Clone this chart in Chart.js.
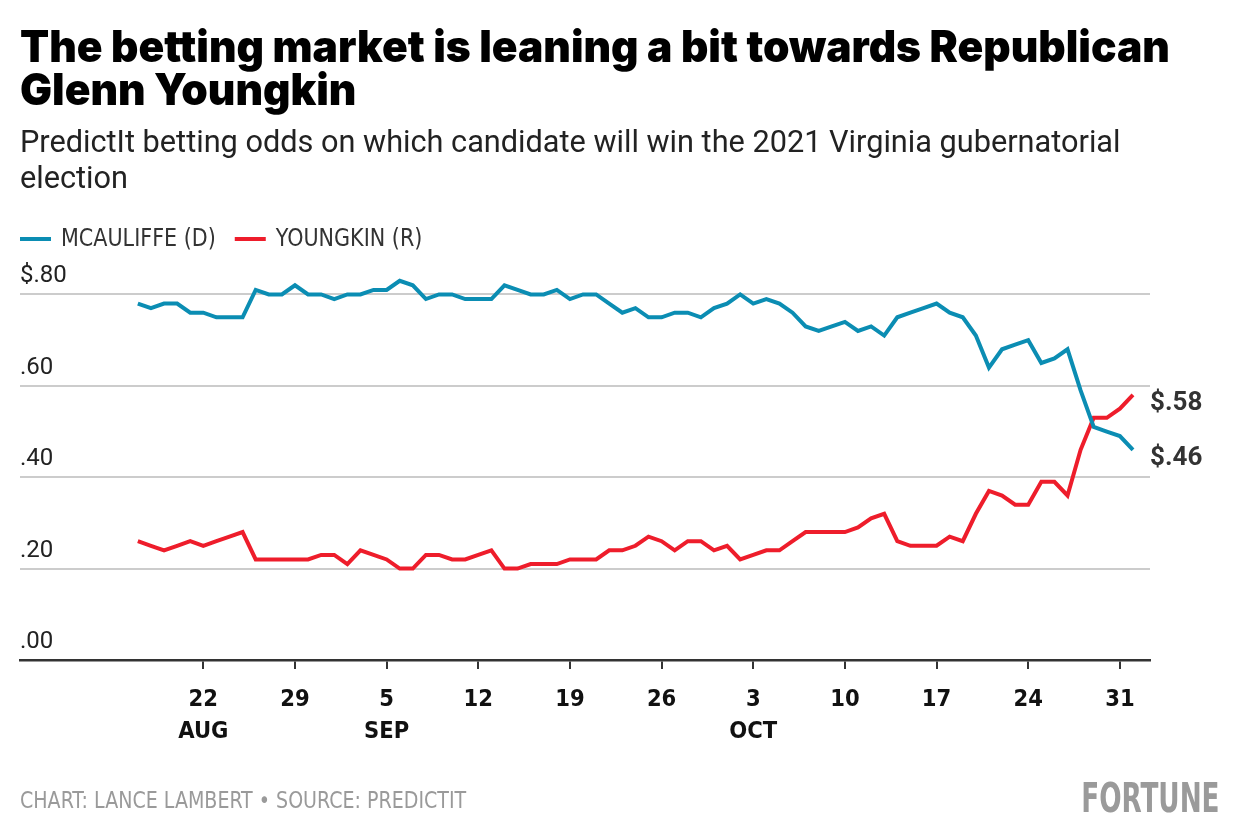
<!DOCTYPE html>
<html>
<head>
<meta charset="utf-8">
<script src="https://cdn.jsdelivr.net/npm/chart.js@4"></script>
<style>
  html, body { margin: 0; padding: 0; background: #fff; }
  #wrap { position: relative; width: 1240px; height: 840px; overflow: hidden; }
  #chart { position: absolute; left: 0; top: 0; }
  .txt { position: absolute; white-space: nowrap; z-index: 2; font-variant-ligatures: none; }
  #title { left: 20px; top: 24.5px; font: 900 44px/43px Inter, Lato, sans-serif; color: #000; transform-origin: left top; }
  #subtitle { left: 20px; top: 124px; font: 400 30.7px/36px Roboto, sans-serif; color: #222; }
  #footer { left: 20px; top: 787px; font: 400 23px/26px "Liberation Sans Narrow", "DejaVu Sans Condensed", sans-serif; color: #9a9a9a; transform: scaleX(0.92); transform-origin: left center; }
  #brand { right: 20px; top: 778px; font: 700 40px/40px "Liberation Sans Narrow", "DejaVu Sans Condensed", sans-serif; color: #9a9a9a; transform: scaleX(0.73); transform-origin: right center; }
</style>
</head>
<body>
<div id="wrap">
  <canvas id="chart" width="1240" height="840"></canvas>
  <div id="title" class="txt">The betting market is leaning a bit towards Republican<br>Glenn Youngkin</div>
  <div id="subtitle" class="txt">PredictIt betting odds on which candidate will win the 2021 Virginia gubernatorial<br>election</div>
  <div id="footer" class="txt">CHART: LANCE LAMBERT • SOURCE: PREDICTIT</div>
  <div id="brand" class="txt">FORTUNE</div>
</div>
<script>
// Daily values, Aug 17 2021 (day 0) to Nov 1 2021 (day 76)
const seriesNames = ["MCAULIFFE (D)", "YOUNGKIN (R)"];
const mcauliffe = [
  0.78, 0.77, 0.78, 0.78, 0.76, 0.76, 0.75, 0.75, 0.75, 0.81,
  0.80, 0.80, 0.82, 0.80, 0.80, 0.79, 0.80, 0.80, 0.81, 0.81,
  0.83, 0.82, 0.79, 0.80, 0.80, 0.79, 0.79, 0.79, 0.82, 0.81,
  0.80, 0.80, 0.81, 0.79, 0.80, 0.80, 0.78, 0.76, 0.77, 0.75,
  0.75, 0.76, 0.76, 0.75, 0.77, 0.78, 0.80, 0.78, 0.79, 0.78,
  0.76, 0.73, 0.72, 0.73, 0.74, 0.72, 0.73, 0.71, 0.75, 0.76,
  0.77, 0.78, 0.76, 0.75, 0.71, 0.64, 0.68, 0.69, 0.70, 0.65,
  0.66, 0.68, 0.59, 0.51, 0.50, 0.49, 0.46
];
const youngkin = [
  0.26, 0.25, 0.24, 0.25, 0.26, 0.25, 0.26, 0.27, 0.28, 0.22,
  0.22, 0.22, 0.22, 0.22, 0.23, 0.23, 0.21, 0.24, 0.23, 0.22,
  0.20, 0.20, 0.23, 0.23, 0.22, 0.22, 0.23, 0.24, 0.20, 0.20,
  0.21, 0.21, 0.21, 0.22, 0.22, 0.22, 0.24, 0.24, 0.25, 0.27,
  0.26, 0.24, 0.26, 0.26, 0.24, 0.25, 0.22, 0.23, 0.24, 0.24,
  0.26, 0.28, 0.28, 0.28, 0.28, 0.29, 0.31, 0.32, 0.26, 0.25,
  0.25, 0.25, 0.27, 0.26, 0.32, 0.37, 0.36, 0.34, 0.34, 0.39,
  0.39, 0.36, 0.46, 0.53, 0.53, 0.55, 0.58
];
// x ticks: day offsets from Aug 17
const xTickDays = [5, 12, 19, 26, 33, 40, 47, 54, 61, 68, 75];
const xTickDayLabels = ["22", "29", "5", "12", "19", "26", "3", "10", "17", "24", "31"];
const xTickMonthLabels = ["AUG", "", "SEP", "", "", "", "OCT", "", "", "", ""];
const yTickValues = [0, 0.2, 0.4, 0.6, 0.8];
const yTickLabels = [".00", ".20", ".40", ".60", "$.80"];

const COLORS = ["#0b8db3", "#ee1d2b"];
const NARROW = '"Liberation Sans Narrow", "DejaVu Sans Condensed", sans-serif';

// fit the title's first line to the reference width
(function fitTitle() {
  const t = document.getElementById('title');
  const w = t.getBoundingClientRect().width;
  const target = 1150;
  if (w > 0) t.style.transform = 'scaleX(' + (target / w).toFixed(4) + ')';
})();

const legendPlugin = {
  id: 'customLegend',
  afterDraw(chart) {
    const ctx = chart.ctx;
    ctx.save();
    ctx.font = '400 25px ' + NARROW;
    ctx.textBaseline = 'middle';
    ctx.textAlign = 'left';
    const sx = 0.92;
    let x = 20;
    const yc = 239;
    chart.data.datasets.forEach(ds => {
      ctx.fillStyle = ds.borderColor;
      ctx.fillRect(x, yc - 2, 31, 4);
      ctx.fillStyle = '#333';
      ctx.save();
      ctx.translate(x + 41, yc);
      ctx.scale(sx, 1);
      ctx.fillText(ds.label, 0, 0);
      ctx.restore();
      x += 41 + ctx.measureText(ds.label).width * sx + 19;
    });
    ctx.restore();
  }
};

const endLabelPlugin = {
  id: 'endLabels',
  afterDatasetsDraw(chart) {
    const ctx = chart.ctx;
    ctx.save();
    ctx.font = '700 26px Roboto, "Liberation Sans", sans-serif';
    ctx.fillStyle = '#333';
    ctx.textBaseline = 'middle';
    ctx.textAlign = 'left';
    chart.data.datasets.forEach((ds, i) => {
      const meta = chart.getDatasetMeta(i);
      const pt = meta.data[meta.data.length - 1];
      const v = ds.data[ds.data.length - 1].y;
      const txt = '$' + v.toFixed(2).slice(1);
      ctx.fillText(txt, chart.chartArea.right, pt.y + 9);
    });
    ctx.restore();
  }
};

new Chart(document.getElementById('chart'), {
  type: 'line',
  data: {
    datasets: [mcauliffe, youngkin].map((arr, i) => ({
      label: seriesNames[i],
      data: arr.map((v, d) => ({ x: d, y: v })),
      borderColor: COLORS[i],
      backgroundColor: COLORS[i],
      borderWidth: 4,
      pointRadius: 0,
      tension: 0,
      clip: false
    }))
  },
  options: {
    responsive: false,
    animation: false,
    layout: { padding: { top: 271.6, left: 20, right: 90, bottom: 80 } },
    plugins: { legend: { display: false }, tooltip: { enabled: false } },
    scales: {
      x: {
        type: 'linear',
        min: -9,
        max: 77.3,
        afterBuildTicks(scale) { scale.ticks = xTickDays.map(v => ({ value: v })); },
        afterFit(scale) { scale.height = 100; },
        grid: { drawOnChartArea: false, drawTicks: true, tickLength: 9, color: '#333', lineWidth: 2 },
        border: { display: true, color: '#333', width: 2.5 },
        ticks: {
          autoSkip: false,
          maxRotation: 0,
          padding: 15,
          color: '#111',
          font: { family: NARROW, size: 23.5, weight: '700', lineHeight: 1.36 },
          callback(value, index) {
            const m = xTickMonthLabels[index];
            return m ? [xTickDayLabels[index], m] : xTickDayLabels[index];
          }
        }
      },
      y: {
        min: 0,
        max: 0.85,
        afterBuildTicks(scale) { scale.ticks = yTickValues.map(v => ({ value: v })); },
        afterFit(scale) { scale.width = 0; },
        grid: {
          drawTicks: false,
          lineWidth: 2,
          color: (c) => (c.tick && c.tick.value === 0) ? 'rgba(0,0,0,0)' : '#cccccc'
        },
        border: { display: false },
        ticks: {
          mirror: true,
          padding: 0,
          labelOffset: -18,
          color: '#222',
          font: { family: 'Roboto, "Liberation Sans", sans-serif', size: 24 },
          callback(value, index) { return yTickLabels[index]; }
        }
      }
    }
  },
  plugins: [legendPlugin, endLabelPlugin]
});
</script>
</body>
</html>
